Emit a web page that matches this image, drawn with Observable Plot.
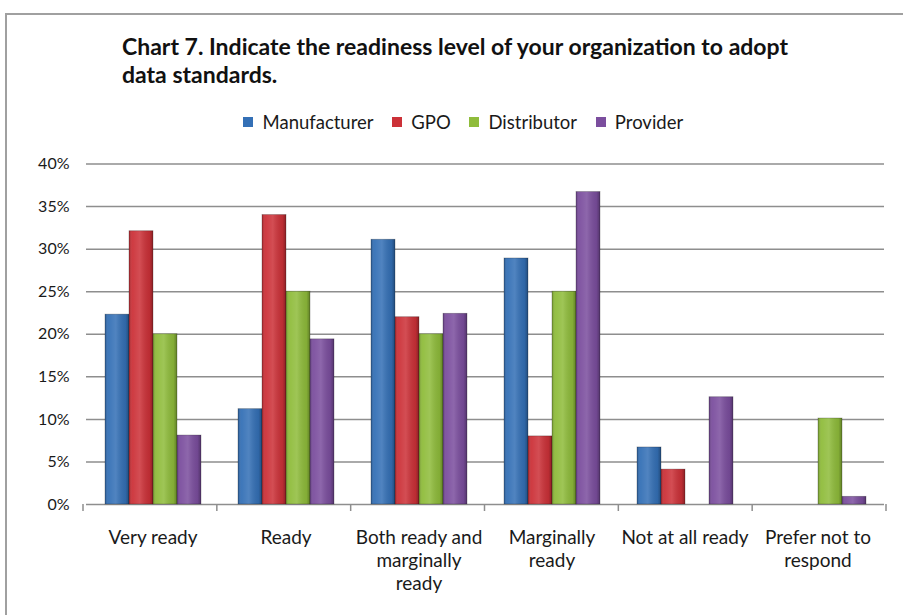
<!DOCTYPE html>
<html>
<head>
<meta charset="utf-8">
<script src="https://cdn.jsdelivr.net/npm/d3@7"></script>
<script src="https://cdn.jsdelivr.net/npm/@observablehq/plot@0.6"></script>
<style>
  html, body { margin: 0; padding: 0; background: #fff; }
  body { width: 903px; height: 615px; overflow: hidden; position: relative; font-family: Lato, "Open Sans", sans-serif; color: #1a1a1a; }
  #frame { position: absolute; left: 5px; top: 13px; width: 930px; height: 640px; border: 2px solid #a0a0a0; box-sizing: border-box; }
  #title { position: absolute; left: 122px; top: 32px; font-weight: bold; font-size: 23px; line-height: 28px; color: #111; white-space: nowrap; }
  #legend { position: absolute; left: 21px; top: 105px; width: 903px; }
  #legend > div { justify-content: center; }
  #chart { position: absolute; left: 0; top: 140px; }
</style>
</head>
<body>
<svg width="0" height="0" style="position:absolute">
  <defs>
    <linearGradient id="shine" x1="0" y1="0" x2="1" y2="0">
      <stop offset="0" stop-color="#000" stop-opacity="0.22"/>
      <stop offset="0.15" stop-color="#fff" stop-opacity="0.05"/>
      <stop offset="0.45" stop-color="#fff" stop-opacity="0.14"/>
      <stop offset="0.85" stop-color="#000" stop-opacity="0.08"/>
      <stop offset="1" stop-color="#000" stop-opacity="0.32"/>
    </linearGradient>
  </defs>
</svg>
<div id="frame"></div>
<div id="title">Chart 7. Indicate the readiness level of your organization to adopt<br>data standards.</div>
<div id="legend"></div>
<div id="chart"></div>
<script>
const categories = ["Very ready", "Ready", "Both ready and marginally ready", "Marginally ready", "Not at all ready", "Prefer not to respond"];
const categoryLabels = ["Very ready", "Ready", "Both ready and\nmarginally\nready", "Marginally\nready", "Not at all ready", "Prefer not to\nrespond"];
const series = ["Manufacturer", "GPO", "Distributor", "Provider"];
const seriesColors = ["#3470b6", "#cc3138", "#8fbc3b", "#7b4e9e"];
const manufacturer = [22.3, 11.2, 31.1, 28.9, 6.7, 0];
const gpo = [32.1, 34.0, 22.0, 8.0, 4.1, 0];
const distributor = [20.0, 25.0, 20.0, 25.0, 0, 10.1];
const provider = [8.1, 19.4, 22.4, 36.7, 12.6, 0.9];
const yTicks = [0, 5, 10, 15, 20, 25, 30, 35, 40];

const valuesBySeries = [manufacturer, gpo, distributor, provider];
const rows = [];
categories.forEach((c, i) => {
  series.forEach((s, j) => {
    rows.push({category: c, series: s, value: valuesBySeries[j][i]});
  });
});

const font = "Lato, 'Open Sans', sans-serif";

const legend = Plot.legend({
  color: {domain: series, range: seriesColors},
  legend: "swatches",
  swatchSize: 10,
  style: {fontFamily: font, fontSize: "18.5px", color: "#1a1a1a"}
});
document.getElementById("legend").appendChild(legend);

const plot = Plot.plot({
  width: 903,
  height: 470,
  marginLeft: 83,
  marginRight: 17,
  marginTop: 23.5,
  marginBottom: 106,
  style: {fontFamily: font, fontSize: "15px", color: "#1a1a1a", background: "transparent", overflow: "visible"},
  facet: {data: rows, x: "category", marginBottom: 106},
  fx: {domain: categories, paddingInner: 0, paddingOuter: 0},
  x: {domain: series, paddingInner: 0, paddingOuter: 0.74, axis: null},
  y: {domain: [0, 40]},
  color: {domain: series, range: seriesColors},
  marks: [
    Plot.ruleY(yTicks, {stroke: "#8e8e8e", strokeWidth: 1.5}),
    Plot.barY(rows, {x: "series", y: "value", fill: "series", stroke: "rgba(0,0,0,0.3)", strokeWidth: 0.8}),
    Plot.barY(rows, {x: "series", y: "value", fill: "url(#shine)"}),
    Plot.axisY({ticks: yTicks, tickFormat: d => d + "%", tickSize: 0, tickPadding: 17, label: null, fontSize: 16}),
    Plot.axisFx({anchor: "bottom", tickSize: 0, tickPadding: 23, lineHeight: 1.22, fontSize: 19, label: null,
      tickFormat: d => categoryLabels[categories.indexOf(d)]})
  ]
});
document.getElementById("chart").appendChild(plot);

// category boundary ticks on the baseline, from the fx band scale
const fxs = plot.scale("fx");
const ys = plot.scale("y");
const band = d3.scaleBand().domain(fxs.domain).range(fxs.range).paddingInner(fxs.paddingInner || 0).paddingOuter(fxs.paddingOuter || 0);
const y0 = ys.apply(0);
const bounds = fxs.domain.map(d => band(d)).concat([fxs.range[1]]);
const g = d3.select(plot.tagName.toLowerCase() === "svg" ? plot : plot.querySelector("svg")).append("g");
g.selectAll("line").data(bounds).join("line")
  .attr("x1", d => d).attr("x2", d => d)
  .attr("y1", y0).attr("y2", y0 + 7)
  .attr("stroke", "#8e8e8e").attr("stroke-width", 1.5);
</script>
</body>
</html>
